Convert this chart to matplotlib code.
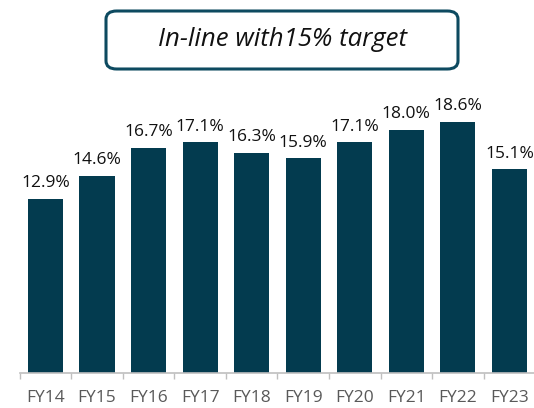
import matplotlib
matplotlib.use("Agg")
import matplotlib.pyplot as plt
from matplotlib.patches import FancyBboxPatch

categories = ["FY14", "FY15", "FY16", "FY17", "FY18", "FY19", "FY20", "FY21", "FY22", "FY23"]
values = [12.9, 14.6, 16.7, 17.1, 16.3, 15.9, 17.1, 18.0, 18.6, 15.1]
value_labels = ["12.9%", "14.6%", "16.7%", "17.1%", "16.3%", "15.9%", "17.1%", "18.0%", "18.6%", "15.1%"]
title_text = "In-line with15% target"

plt.rcParams['font.family'] = ['Open Sans', 'DejaVu Sans']

W, H = 534, 408
fig = plt.figure(figsize=(W / 100, H / 100), dpi=100)
fig.patch.set_facecolor("white")

ax_left = 19.7 / W
ax_bottom = (H - 373) / H
ax_w = 515.5 / W
ax_h = 270 / H
ax = fig.add_axes([ax_left, ax_bottom, ax_w, ax_h])
bar_color = "#033b4f"
x = list(range(len(categories)))
bars = ax.bar(x, values, width=0.68, color=bar_color, zorder=2)
ax.set_xlim(-0.5, len(categories) - 0.5)
ax.set_ylim(0, 20)

for xi, v, lab in zip(x, values, value_labels):
    ax.annotate(lab, (xi, v), xytext=(0, 5.5), textcoords="offset points",
                ha="center", va="bottom", fontsize=12.5, color="#111111")

for s in ["top", "right", "left"]:
    ax.spines[s].set_visible(False)
ax.spines["bottom"].set_color("#bfbfbf")
ax.spines["bottom"].set_linewidth(1.2)
ax.set_yticks([])
ax.set_xticks([i - 0.5 for i in range(len(categories) + 1)], minor=False)
ax.set_xticklabels([])
ax.tick_params(axis="x", which="major", length=4, color="#bfbfbf", width=1)
ax.set_xticks(x, minor=True)
ax.set_xticklabels(categories, minor=True)
ax.tick_params(axis="x", which="minor", length=0, pad=12, labelsize=12.5, labelcolor="#595959")

# title box
bx0, by0, bx1, by1 = 106, 11, 458, 69
box = FancyBboxPatch((bx0 / W, 1 - by1 / H), (bx1 - bx0) / W, (by1 - by0) / H,
                     boxstyle="round,pad=0,rounding_size=0.02",
                     transform=fig.transFigure, facecolor="white",
                     edgecolor="#0d4a60", linewidth=2.2)
fig.patches.append(box)
fig.text(((bx0 + bx1) / 2) / W, 1 - ((by0 + by1) / 2) / H, title_text,
         ha="center", va="center", fontsize=18.5, style="italic", color="#111111")

fig.savefig("out.png", dpi=100)
